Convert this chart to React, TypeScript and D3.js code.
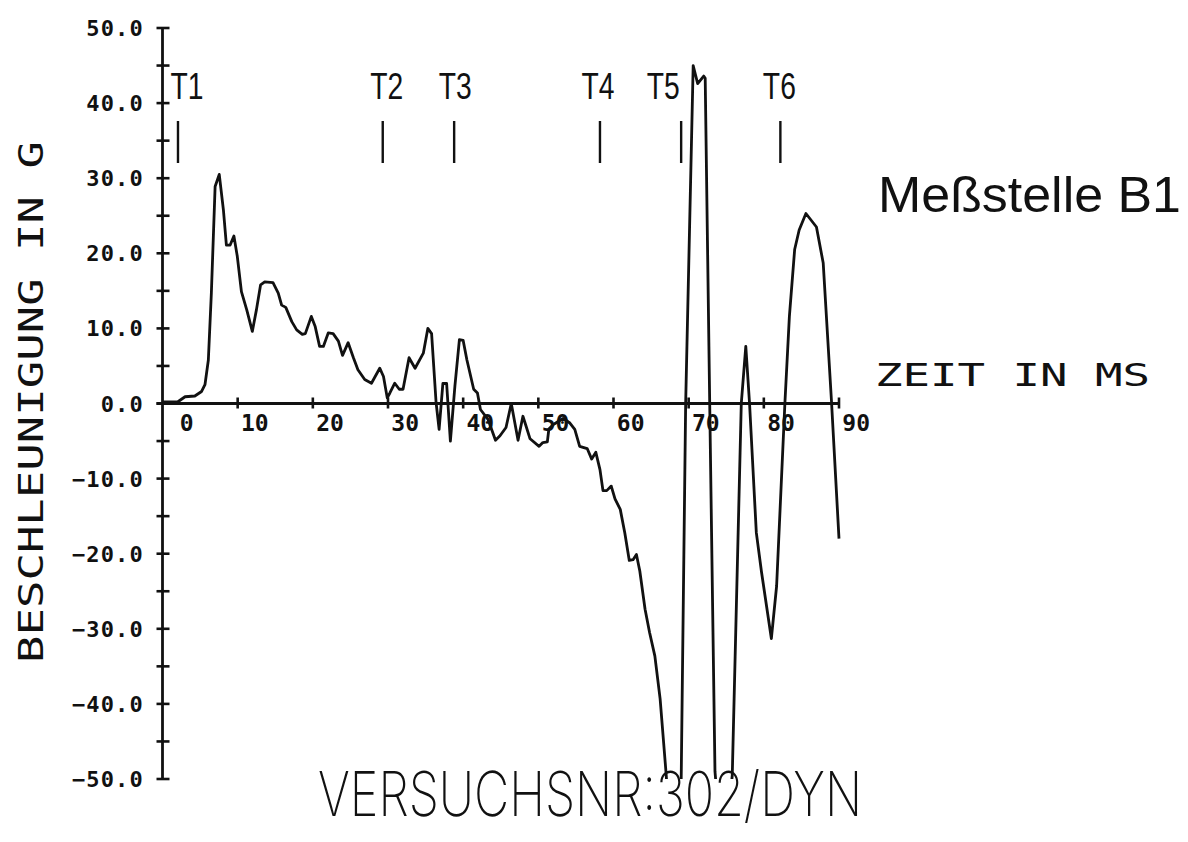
import React from "react";
import * as d3 from "d3";

// ---- data ----
const timeMs: number[] = [
  0.0, 2.0, 3.0, 4.3, 5.2, 5.65, 6.1, 6.5, 7.0, 7.55, 8.1, 8.5, 9.0, 9.5, 9.95,
  10.5, 11.2, 11.95, 12.5, 13.05, 13.6, 14.7, 15.4, 15.85, 16.4, 17.2, 17.85,
  18.6, 19.0, 19.8, 20.3, 20.9, 21.4, 22.05, 22.7, 23.4, 23.95, 24.7, 25.4,
  26.0, 26.9, 27.8, 28.9, 29.4, 29.9, 30.25, 30.9, 31.5, 32.0, 32.8, 33.6,
  34.7, 35.3, 35.8, 36.4, 36.8, 37.3, 37.8, 38.3, 38.9, 39.5, 40.0, 40.5,
  41.4, 41.9, 42.3, 43.3, 44.3, 44.9, 45.7, 46.4, 47.3, 47.95, 48.3, 48.9,
  50.1, 50.6, 51.2, 51.4, 52.0, 53.3, 54.2, 54.85, 55.5, 56.5, 57.1, 57.65,
  58.2, 58.6, 59.1, 59.7, 60.2, 60.9, 61.5, 62.1, 62.6, 63.05, 63.5, 64.2,
  64.8, 65.5, 66.2, 67.0, 67.6, 68.4, 69.0, 69.6, 70.6, 71.2, 72.0, 72.2,
  72.8, 73.5, 74.6, 75.8, 77.0, 77.6, 78.1, 79.0, 79.7, 81.0, 81.7, 82.8,
  83.4, 84.1, 84.7, 85.6, 87.0, 87.9, 89.0, 90.0,
];
const accelG: number[] = [
  0.2, 0.2, 0.9, 1.0, 1.6, 2.5, 5.8, 14.7, 28.9, 30.5, 25.8, 21.1, 21.1, 22.3,
  19.6, 14.9, 12.5, 9.6, 12.5, 15.8, 16.2, 16.1, 14.7, 13.1, 12.8, 10.9, 9.8,
  9.2, 9.3, 11.6, 10.3, 7.6, 7.6, 9.4, 9.3, 8.3, 6.4, 8.1, 6.1, 4.5, 3.2, 2.7,
  4.7, 3.6, 0.75, 1.4, 2.7, 1.9, 1.9, 6.1, 4.7, 6.7, 10.0, 9.3, 0.1, -3.45,
  2.66, 2.66, -5.0, 2.3, 8.5, 8.4, 5.8, 1.9, 1.4, -0.8, -2.1, -4.9, -4.3, -3.2,
  0.0, -4.9, -1.7, -2.8, -4.7, -5.7, -5.2, -5.1, -3.4, -2.8, -2.0, -2.6, -3.45,
  -5.7, -6.0, -7.4, -6.5, -8.8, -11.6, -11.6, -11.0, -12.7, -14.1, -17.2,
  -20.9, -20.8, -20.1, -22.3, -27.4, -30.5, -33.6, -39.3, -49.3, -58, -60,
  -50.5, 0, 45.0, 42.6, 43.6, 43.3, 0, -49, -62, -49.5, 0, 7.6, 0, -17.2,
  -22.5, -31.3, -24.3, 0, 11.6, 20.5, 23.1, 25.3, 23.5, 18.7, 0.3, -18.0,
];

const markerNames: string[] = ["T1", "T2", "T3", "T4", "T5", "T6"];
const markerTimes: number[] = [2.06, 29.3, 38.8, 58.2, 69.0, 82.2];

const xTickValues: number[] = [0, 10, 20, 30, 40, 50, 60, 70, 80, 90];
const yTickValues: number[] = [-50, -40, -30, -20, -10, 0, 10, 20, 30, 40, 50];

const yAxisTitle = "BESCHLEUNIGUNG IN G";
const xAxisTitle = "ZEIT IN MS";
const chartTitle = "Meßstelle B1";
const footerText = "VERSUCHSNR:302/DYN";

// ---- layout ----
const W = 1188;
const H = 842;
const X0 = 162.5;
const X1 = 839;
const YTOP = 28;
const YBOT = 779;
const markerLabelShift: number[] = [9, 4, 1, -2, -18, -1];

const INK = "#111";
const MONO = "'DejaVu Sans Mono', monospace";

export default function App() {
  const x = d3.scaleLinear().domain([0, 90]).range([X0, X1]);
  const y = d3.scaleLinear().domain([-50, 50]).range([YBOT, YTOP]);

  const pts: [number, number][] = timeMs.map((t, i) => [t, accelG[i]]);
  const line = d3
    .line<[number, number]>()
    .x((d) => x(d[0]))
    .y((d) => y(d[1]));

  const minorY = d3.range(-50, 50.01, 5);
  const fmt = d3.format(".1f");
  const y0 = y(0);

  return (
    <svg
      width={W}
      height={H}
      viewBox={`0 0 ${W} ${H}`}
      style={{ position: "absolute", left: 0, top: 0, background: "#fff" }}
    >
      <defs>
        <clipPath id="plotClip">
          <rect x={X0 - 10} y={YTOP - 10} width={X1 - X0 + 20} height={YBOT - YTOP + 10} />
        </clipPath>
      </defs>
      <rect x={0} y={0} width={W} height={H} fill="#fff" />

      {/* y axis */}
      <line x1={x(0)} x2={x(0)} y1={y(50)} y2={y(-50)} stroke={INK} strokeWidth={2.8} />
      {minorY.map((v) => (
        <line key={"yt" + v} x1={x(0) - 6} x2={x(0) + 7} y1={y(v)} y2={y(v)} stroke={INK} strokeWidth={2.6} />
      ))}
      {yTickValues.map((v) => (
        <text
          key={"yl" + v}
          x={144}
          y={y(v) + 8}
          textAnchor="end"
          fontFamily={MONO}
          fontWeight="bold"
          fontSize={22}
          letterSpacing={1.2}
          fill={INK}
        >
          {fmt(v)}
        </text>
      ))}

      {/* x axis */}
      <line x1={x(0) - 6} x2={x(90)} y1={y0} y2={y0} stroke={INK} strokeWidth={2.8} />
      {xTickValues.filter((t) => t > 0).map((t) => (
        <line key={"xt" + t} x1={x(t)} x2={x(t)} y1={y0 - 6} y2={y0 + 5} stroke={INK} strokeWidth={2.6} />
      ))}
      {xTickValues.map((t) => (
        <text
          key={"xl" + t}
          x={x(t) + 31}
          y={y0 + 27}
          textAnchor="end"
          fontFamily={MONO}
          fontWeight="bold"
          fontSize={23}
          fill={INK}
        >
          {t}
        </text>
      ))}

      {/* curve */}
      <path
        d={line(pts) || ""}
        fill="none"
        stroke={INK}
        strokeWidth={2.8}
        strokeLinejoin="round"
        clipPath="url(#plotClip)"
      />

      {/* time markers */}
      {markerTimes.map((t, i) => (
        <g key={"m" + i}>
          <line x1={x(t)} x2={x(t)} y1={121} y2={163} stroke={INK} strokeWidth={2.4} />
          <text
            x={x(t) + markerLabelShift[i]}
            y={99}
            textAnchor="middle"
            fontFamily="'Liberation Sans', Arial, sans-serif"
            fontSize={36}
            textLength={33}
            lengthAdjust="spacingAndGlyphs"
            fill={INK}
          >
            {markerNames[i]}
          </text>
        </g>
      ))}

      {/* titles */}
      <text
        transform={`translate(43, ${402}) rotate(-90)`}
        textAnchor="middle"
        fontFamily={MONO}
        fontSize={34}
        textLength={522}
        lengthAdjust="spacingAndGlyphs"
        fill={INK}
      >
        {yAxisTitle}
      </text>
      <text
        x={875}
        y={386}
        fontFamily={MONO}
        fontSize={32}
        textLength={275}
        lengthAdjust="spacingAndGlyphs"
        fill={INK}
      >
        {xAxisTitle}
      </text>
      <text
        x={878}
        y={212}
        fontFamily="'Liberation Sans', Arial, sans-serif"
        fontSize={50}
        textLength={303}
        lengthAdjust="spacingAndGlyphs"
        fill={INK}
      >
        {chartTitle}
      </text>
      <text
        x={318}
        y={816}
        fontFamily="Inter, 'DejaVu Sans', sans-serif"
        fontWeight={200}
        fontSize={62}
        textLength={544}
        lengthAdjust="spacingAndGlyphs"
        fill={INK}
      >
        {footerText}
      </text>
    </svg>
  );
}
